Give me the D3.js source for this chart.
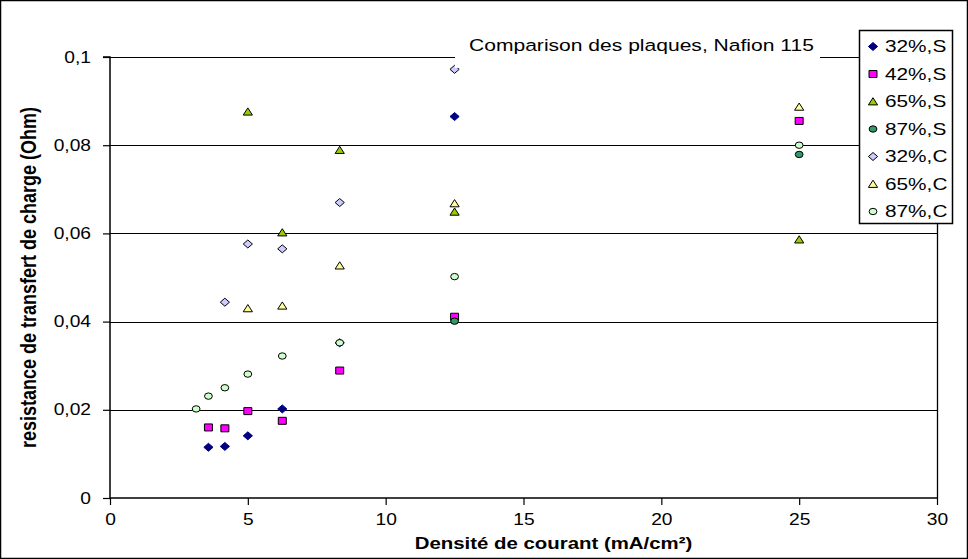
<!DOCTYPE html>
<html><head><meta charset="utf-8">
<script src="https://cdn.jsdelivr.net/npm/d3@7"></script>
<style>
html,body{margin:0;padding:0;background:#fff;}
svg{display:block;}
text{font-family:"Liberation Sans",Arial,sans-serif;fill:#000;}
</style></head>
<body>
<svg id="chart" width="968" height="559"></svg>
<script>
// ---------- data ----------
const xTicks = [0, 5, 10, 15, 20, 25, 30];
const yTicks = [0, 0.02, 0.04, 0.06, 0.08, 0.1];
const yTickLabels = ["0", "0,02", "0,04", "0,06", "0,08", "0,1"];
const seriesNames = ["32%,S", "42%,S", "65%,S", "87%,S", "32%,C", "65%,C", "87%,C"];

const s32S_x = [3.571, 4.167, 5, 6.25, 8.333, 12.5];
const s32S_y = [0.0115, 0.0117, 0.0141, 0.0202, 0.0352, 0.0865];
const s42S_x = [3.571, 4.167, 5, 6.25, 8.333, 12.5, 25];
const s42S_y = [0.0160, 0.0158, 0.0197, 0.0175, 0.0289, 0.0411, 0.0855];
const s65S_x = [5, 6.25, 8.333, 12.5, 25];
const s65S_y = [0.0876, 0.0602, 0.0789, 0.0649, 0.0586];
const s87S_x = [12.5, 25];
const s87S_y = [0.0401, 0.0779];
const s32C_x = [4.167, 5, 6.25, 8.333, 12.5];
const s32C_y = [0.0444, 0.0576, 0.0565, 0.0670, 0.0972];
const s65C_x = [5, 6.25, 8.333, 12.5, 25];
const s65C_y = [0.0430, 0.0436, 0.0527, 0.0668, 0.0887];
const s87C_x = [3.125, 3.571, 4.167, 5, 6.25, 8.333, 12.5, 25];
const s87C_y = [0.0202, 0.0231, 0.0250, 0.0281, 0.0322, 0.0352, 0.0502, 0.0800];

const titleText = "Comparison des plaques, Nafion 115";
const xTitle = "Densité de courant (mA/cm²)";
const yTitle = "resistance de transfert de charge (Ohm)";

// ---------- styles ----------
const styles = [
  {shape: "diamond", fill: "#000080", stroke: "#000080"},
  {shape: "square", fill: "#FF00FF", stroke: "#000"},
  {shape: "triangle", fill: "#99CC00", stroke: "#000"},
  {shape: "circle", fill: "#339966", stroke: "#000"},
  {shape: "diamond", fill: "#CCCCFF", stroke: "#000"},
  {shape: "triangle", fill: "#FFFF99", stroke: "#000"},
  {shape: "circle", fill: "#CCFFCC", stroke: "#000"}
];
const seriesX = [s32S_x, s42S_x, s65S_x, s87S_x, s32C_x, s65C_x, s87C_x];
const seriesY = [s32S_y, s42S_y, s65S_y, s87S_y, s32C_y, s65C_y, s87C_y];

const svg = d3.select("#chart");
const X0 = 110, X1 = 937, Y0 = 498, Y1 = 57;
const x = d3.scaleLinear().domain([0, 30]).range([X0, X1]);
const y = d3.scaleLinear().domain([0, 0.1]).range([Y0, Y1]);
const SX = 1.2; // horizontal text stretch

// outer border
svg.append("rect").attr("x", 0.5).attr("y", 0.5).attr("width", 967).attr("height", 558)
  .attr("fill", "#fff").attr("stroke", "#000").attr("stroke-width", 1.5);

// gridlines
svg.append("g").selectAll("line").data(yTicks.filter(d => d > 0)).join("line")
  .attr("x1", X0).attr("x2", X1)
  .attr("y1", d => Math.round(y(d)) + 0.5).attr("y2", d => Math.round(y(d)) + 0.5)
  .attr("stroke", "#000").attr("stroke-width", 1);

// right border of plot
svg.append("line").attr("x1", X1 + 0.5).attr("x2", X1 + 0.5).attr("y1", Y1).attr("y2", Y0)
  .attr("stroke", "#000").attr("stroke-width", 1.3);

// axes
const xAxis = d3.axisBottom(x).tickValues(xTicks).tickSize(7).tickPadding(9).tickFormat(d3.format("d"));
const gx = svg.append("g").attr("transform", `translate(0,${Y0})`).call(xAxis);
const yAxis = d3.axisLeft(y).tickValues(yTicks).tickSize(7).tickPadding(12)
  .tickFormat((d, i) => yTickLabels[i]);
const gy = svg.append("g").attr("transform", `translate(${X0},0)`).call(yAxis);
[gx, gy].forEach(g => {
  g.select(".domain").attr("stroke", "#000").attr("stroke-width", 1.5);
  g.selectAll(".tick line").attr("stroke", "#000").attr("stroke-width", 1.2);
  g.selectAll(".tick text").attr("font-size", 16).attr("font-family", "Liberation Sans, Arial, sans-serif").attr("fill", "#000");
});
gy.select(".domain").attr("d", `M${-7},${Y1}H0V${Y0}`);
gx.select(".domain").attr("d", `M0,0H${X1 - X0 + 0.5}`).attr("transform", `translate(${X0},0)`);
gx.selectAll(".tick text").attr("transform", `scale(${SX},1)`);
gy.selectAll(".tick text").each(function() {
  const t = d3.select(this);
  const xx = +t.attr("x");
  t.attr("x", xx / SX).attr("transform", `scale(${SX},1)`);
});

// markers
function markerPath(shape) {
  switch (shape) {
    case "diamond": return "M0,-4L4.6,0L0,4L-4.6,0Z";
    case "square": return "M-4,-3.5H4V3.5H-4Z";
    case "triangle": return "M0,-3.8L4.6,3.4H-4.6Z";
    case "circle": return "M-3.9,0A3.9,3.2 0 1,0 3.9,0A3.9,3.2 0 1,0 -3.9,0Z";
  }
}
seriesX.forEach((xs, si) => {
  const st = styles[si];
  const pts = xs.map((v, i) => [v, seriesY[si][i]]);
  svg.append("g").selectAll("path").data(pts).join("path")
    .attr("d", markerPath(st.shape))
    .attr("transform", d => `translate(${x(d[0])},${y(d[1])})`)
    .attr("fill", st.fill).attr("stroke", st.stroke).attr("stroke-width", 1);
});

// title box
svg.append("rect").attr("x", 455).attr("y", 28).attr("width", 365).attr("height", 40).attr("fill", "#fff");
svg.append("text").attr("transform", `translate(469,51) scale(1.24,1)`)
  .attr("font-size", 17).text(titleText);

// legend
const lg = svg.append("g");
lg.append("rect").attr("x", 859.5).attr("y", 30.5).attr("width", 93).attr("height", 193)
  .attr("fill", "#fff").attr("stroke", "#000").attr("stroke-width", 1.5);
seriesNames.forEach((nm, i) => {
  const yy = 46.5 + i * 27.5;
  lg.append("path").attr("d", markerPath(styles[i].shape))
    .attr("transform", `translate(873,${yy})`)
    .attr("fill", styles[i].fill).attr("stroke", styles[i].stroke).attr("stroke-width", 1);
  lg.append("text").attr("transform", `translate(885,${yy + 5.5}) scale(1.3,1)`)
    .attr("font-size", 16).text(nm);
});

// axis titles
svg.append("text").attr("transform", `translate(${(X0 + X1) / 2 + 30},${549}) scale(${SX},1)`)
  .attr("text-anchor", "middle").attr("font-size", 17).attr("font-weight", "bold").text(xTitle);
svg.append("text").attr("transform", `translate(36,${(Y0 + Y1) / 2}) scale(${SX},1) rotate(-90)`)
  .attr("text-anchor", "middle").attr("font-size", 18).attr("font-weight", "bold").text(yTitle);
</script>
</body></html>
